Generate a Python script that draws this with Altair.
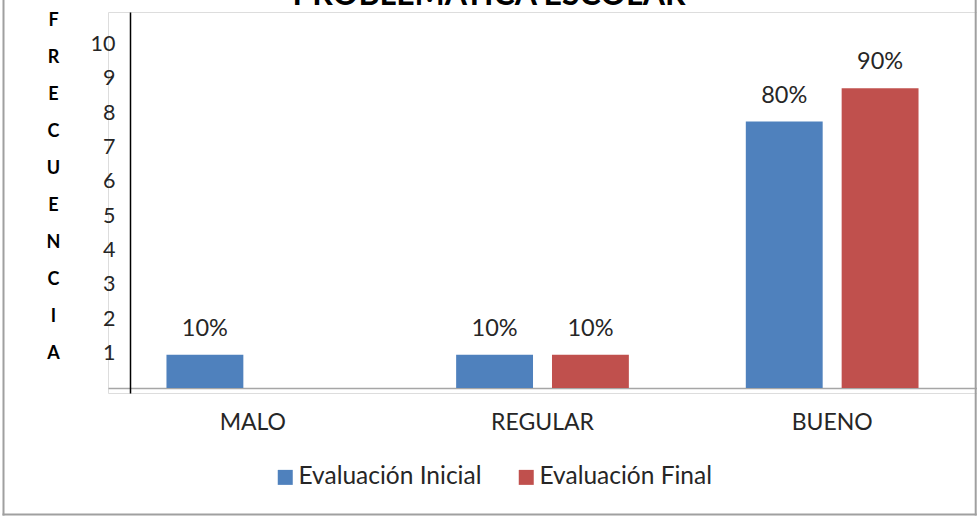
import altair as alt
import pandas as pd

# Frecuencia por categoría y evaluación
categorias = ["MALO", "REGULAR", "BUENO"]
series = ["Evaluación Inicial", "Evaluación Final"]
inicial = [1, 1, 8]
final = [0, 1, 9]
colores = ["#4F81BD", "#C0504D"]
marcas_eje = list(range(1, 11))
titulo_eje = list("FRECUENCIA")
titulo = "PROBLEMÁTICA ESCOLAR"

FUENTE = "Lato"
TINTA = "#262626"
BORDE = "#a0a0a0"

filas = []
for cat, a, b in zip(categorias, inicial, final):
    filas.append({"categoria": cat, "serie": series[0], "valor": a})
    filas.append({"categoria": cat, "serie": series[1], "valor": b})
datos = pd.DataFrame(filas)
marcas = pd.DataFrame({"v": marcas_eje})

x_enc = alt.X(
    "categoria:N",
    sort=categorias,
    scale=alt.Scale(paddingInner=0, paddingOuter=0),
    axis=alt.Axis(
        title=None, labelAngle=0, ticks=False, grid=False,
        domainColor="#a6a6a6", domainWidth=1.5, offset=-5,
        labelPadding=23, labelFont=FUENTE, labelFontSize=23,
        labelColor=TINTA,
    ),
)
xoff_enc = alt.XOffset(
    "serie:N", sort=series,
    scale=alt.Scale(paddingInner=0.198, paddingOuter=0.61),
)
y_barras = alt.Scale(domain=[-0.15, 11.29], nice=False, zero=False)

base = alt.Chart(datos)

barras = base.mark_bar().encode(
    x=x_enc,
    xOffset=xoff_enc,
    y=alt.Y("valor:Q", scale=y_barras, axis=None),
    y2=alt.datum(0),
    color=alt.Color(
        "serie:N",
        sort=series,
        scale=alt.Scale(domain=series, range=colores),
        legend=alt.Legend(
            title=None, orient="none", direction="horizontal",
            legendX=165, legendY=453, padding=0,
            symbolType="square", symbolSize=225, symbolStrokeWidth=0,
            labelFont=FUENTE, labelFontSize=24.5, labelColor=TINTA,
            labelOffset=1, columnPadding=32, labelLimit=400,
        ),
    ),
)

etiquetas = base.transform_filter(alt.datum.valor > 0).transform_calculate(
    pct=alt.expr.toString(alt.datum.valor * 10) + "%"
).mark_text(
    baseline="alphabetic", dy=-19, font=FUENTE, fontSize=23.5, color=TINTA
).encode(
    x=x_enc,
    xOffset=xoff_enc,
    y=alt.Y("valor:Q", scale=y_barras, axis=None),
    text="pct:N",
)

# Eje vertical de frecuencia, con su propia escala de rótulos
eje = alt.Chart(marcas).mark_point(opacity=0, size=1).encode(
    y=alt.Y(
        "v:Q",
        scale=alt.Scale(domain=[-0.146, 10.95], nice=False, zero=False),
        axis=alt.Axis(
            orient="left", values=marcas_eje, ticks=False, grid=False,
            domainColor="black", domainWidth=1.5, offset=-22,
            labelPadding=15, labelFont=FUENTE, labelFontSize=21.5,
            labelColor=TINTA,
            title=titulo_eje, titleAngle=0, titleX=-77, titleY=-1,
            titleAlign="center", titleBaseline="top",
            titleFont=FUENTE, titleFontSize=18, titleFontWeight="bold",
            titleColor="black", titleLineHeight=37.1,
        ),
    )
)

uno = alt.Chart(pd.DataFrame({"k": [0]}))

# Título del gráfico, recortado por el borde superior
encabezado = uno.mark_text(
    text=titulo, font=FUENTE, fontSize=32, fontWeight="bold",
    color="black", baseline="alphabetic", align="center",
).encode(x=alt.value(381), y=alt.value(-7))

# Marco exterior: lados izquierdo, derecho e inferior
lado_izq = uno.mark_rule(stroke=BORDE, strokeWidth=2).encode(
    x=alt.value(-104.5), y=alt.value(-12), y2=alt.value(503.5)
)
lado_der = uno.mark_rule(stroke=BORDE, strokeWidth=2).encode(
    x=alt.value(867.7), y=alt.value(-12), y2=alt.value(503.5)
)
lado_inf = uno.mark_rule(stroke=BORDE, strokeWidth=2).encode(
    x=alt.value(-105.5), x2=alt.value(868.7), y=alt.value(502.5)
)

chart = alt.layer(
    alt.layer(barras, etiquetas), eje, encabezado,
    lado_izq, lado_der, lado_inf
).resolve_scale(y="independent").properties(
    width=869,
    height=381,
    padding={"left": 108, "top": 12, "right": 0, "bottom": 124},
    autosize=alt.AutoSizeParams(type="none"),
).configure_view(stroke="transparent", strokeWidth=0).configure_axis(
    grid=False, gridColor="transparent", tickColor="transparent"
).configure_axisTop(
    domainColor="transparent", labels=False
).configure_axisRight(
    domainColor="transparent", labels=False
).configure(background="white")

chart.save("out.html", embed_options={"renderer": "svg", "actions": False})
